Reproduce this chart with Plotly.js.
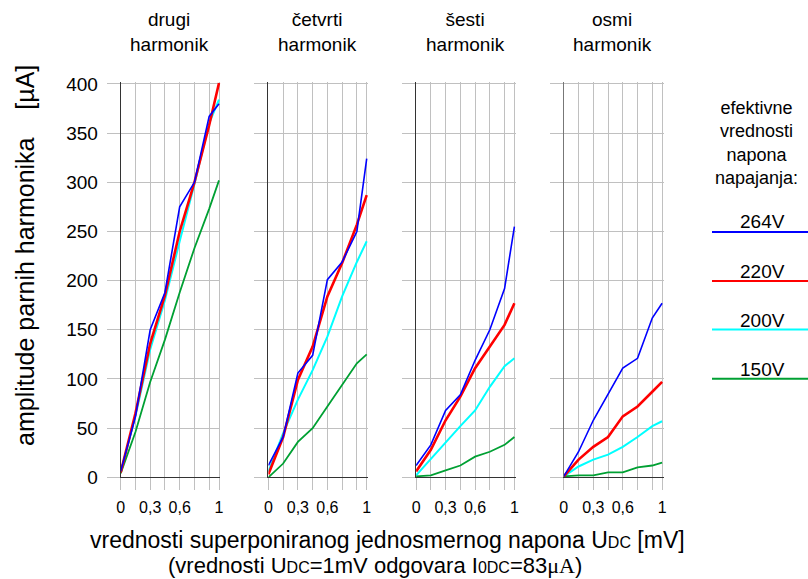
<!DOCTYPE html>
<html><head><meta charset="utf-8">
<script src="https://cdn.plot.ly/plotly-3.0.1.min.js"></script>
<style>html,body{margin:0;padding:0;background:#fff}</style>
</head><body><div id="chart" style="width:808px;height:579px"></div>
<script>
// ---- data ----
const udc = [0, 0.15, 0.3, 0.45, 0.6, 0.75, 0.9, 1];
const xTickVals = [0, 0.15, 0.3, 0.45, 0.6, 0.75, 0.9, 1];
const xTickText = ["0", "", "0,3", "", "0,6", "", "", "1"];
const yTickVals = [0, 50, 100, 150, 200, 250, 300, 350, 400];
const harmonics = ["drugi<br>harmonik", "četvrti<br>harmonik", "šesti<br>harmonik", "osmi<br>harmonik"];
const seriesNames = ["264V", "220V", "200V", "150V"];
const seriesColors = ["#0000ff", "#ff0000", "#00ffff", "#00a033"];
const seriesWidths = [1.6, 2.6, 2, 1.8];

// drugi harmonik
const h2_264 = [6, 62, 150, 188, 275, 300, 367, 380];
const h2_220 = [5, 65, 136, 185, 250, 300, 358, 401];
const h2_200 = [5, 62, 130, 180, 240, 298, 360, 384];
const h2_150 = [4, 46, 97, 140, 188, 233, 273, 302];
// cetvrti harmonik
const h4_264 = [12, 41, 106, 124, 201, 219, 250, 324];
const h4_220 = [3, 41, 99, 133, 184, 218, 257, 287];
const h4_200 = [6, 45, 79, 109, 143, 184, 219, 240];
const h4_150 = [0, 14, 36, 50, 72, 94, 116, 125];
// sesti harmonik
const h6_264 = [12, 33, 68, 84, 119, 150, 192, 255];
const h6_220 = [6, 28, 58, 82, 111, 133, 155, 177];
const h6_200 = [2, 19, 36, 52, 68, 92, 113, 121];
const h6_150 = [1, 2, 7, 12, 21, 26, 33, 41];
// osmi harmonik
const h8_264 = [1, 26, 58, 84, 111, 121, 162, 177];
const h8_220 = [1, 18, 31, 41, 62, 72, 87, 97];
const h8_200 = [1, 11, 18, 23, 31, 41, 52, 57];
const h8_150 = [1, 2, 2, 5, 5, 10, 12, 15];

const panelSeries = [
  [h2_264, h2_220, h2_200, h2_150],
  [h4_264, h4_220, h4_200, h4_150],
  [h6_264, h6_220, h6_200, h6_150],
  [h8_264, h8_220, h8_200, h8_150]
];

// ---- layout geometry ----
const W = 808, H = 579;
const FONT = "Liberation Sans, Arial, sans-serif";
const panelLeft = [120.7, 268.4, 416.1, 563.8];
const unitX = 98.3;
const xMax = 1.015;
const y0px = 477.3, unitY = 0.9833, yMax = 402;
const py = p => 1 - p / H;
const px = p => p / W;

const traces = [];
const layout = {
  width: W, height: H,
  margin: {l: 0, r: 0, t: 0, b: 0},
  paper_bgcolor: "#fff", plot_bgcolor: "#fff",
  showlegend: false,
  font: {family: FONT, color: "#000"},
  annotations: [], shapes: []
};

const drawOrder = [2, 3, 1, 0];
for (let p = 0; p < 4; p++) {
  const sfx = p === 0 ? "" : String(p + 1);
  for (const s of drawOrder) {
    traces.push({
      x: udc, y: panelSeries[p][s], type: "scatter", mode: "lines",
      xaxis: "x" + sfx, yaxis: "y" + sfx,
      line: {color: seriesColors[s], width: seriesWidths[s]},
      hoverinfo: "skip", name: seriesNames[s]
    });
  }
  const l = panelLeft[p];
  layout["xaxis" + sfx] = {
    domain: [px(l), px(l + unitX * xMax)], range: [0, xMax],
    anchor: "y" + sfx, tickmode: "array", tickvals: xTickVals, ticktext: xTickText,
    ticks: "outside", ticklen: 12, tickcolor: "#c0c0c0", tickwidth: 1,
    showgrid: true, gridcolor: "#c0c0c0", gridwidth: 1, zeroline: false,
    showline: true, linecolor: "#333", linewidth: 1,
    tickfont: {size: 16, family: FONT, color: "#000"}, ticklabelstandoff: 3,
    fixedrange: true
  };
  layout["yaxis" + sfx] = {
    domain: [py(y0px), py(y0px - yMax * unitY)], range: [0, yMax],
    anchor: "x" + sfx, tickmode: "array", tickvals: yTickVals,
    showticklabels: p === 0,
    ticks: "outside", ticklen: 13, tickcolor: "#c0c0c0", tickwidth: 1,
    showgrid: true, gridcolor: "#c0c0c0", gridwidth: 1, zeroline: false,
    showline: true, linecolor: p === 3 ? "#777" : "#333", linewidth: 1,
    tickfont: {size: 19, family: FONT, color: "#000"}, ticklabelstandoff: 5,
    fixedrange: true
  };
  layout.annotations.push({
    xref: "paper", yref: "paper", x: px(l + unitX / 2), y: py(32),
    xanchor: "center", yanchor: "middle", showarrow: false,
    text: harmonics[p], font: {size: 19, family: FONT, color: "#000"}
  });
}

// axis titles
layout.annotations.push({
  xref: "paper", yref: "paper", x: px(25), y: py(256), textangle: -90,
  xanchor: "center", yanchor: "middle", showarrow: false,
  text: "amplitude parnih harmonika    [µA]",
  font: {size: 25, family: FONT, color: "#000"}
});
layout.annotations.push({
  xref: "paper", yref: "paper", x: px(387.5), y: py(539.5),
  xanchor: "center", yanchor: "middle", showarrow: false, borderpad: 0,
  text: "vrednosti superponiranog jednosmernog napona U<span style='font-size:16px'>DC</span> [mV]",
  font: {size: 23, family: FONT, color: "#000"}
});
layout.annotations.push({
  xref: "paper", yref: "paper", x: px(375), y: py(565.3),
  xanchor: "center", yanchor: "middle", showarrow: false, borderpad: 0,
  text: "(vrednosti U<span style='font-size:16px'>DC</span>=1mV odgovara I<span style='font-size:16px'>0DC</span>=83<span style='font-family:Liberation Serif,serif'>μA</span>)",
  font: {size: 22, family: FONT, color: "#000"}
});

// legend
layout.annotations.push({
  xref: "paper", yref: "paper", x: px(756), y: py(143),
  xanchor: "center", yanchor: "middle", showarrow: false,
  text: "efektivne<br>vrednosti<br>napona<br>napajanja:",
  font: {size: 18, family: FONT, color: "#000"}
});
const legTextY = [221.7, 271.7, 320, 369.3];
const legLineY = [232, 281, 329.5, 378.7];
for (let s = 0; s < 4; s++) {
  layout.annotations.push({
    xref: "paper", yref: "paper", x: px(762), y: py(legTextY[s]),
    xanchor: "center", yanchor: "middle", showarrow: false,
    text: seriesNames[s], font: {size: 19, family: FONT, color: "#000"}
  });
  layout.shapes.push({
    type: "line", xref: "paper", yref: "paper",
    x0: px(712), x1: 1, y0: py(legLineY[s]), y1: py(legLineY[s]),
    line: {color: seriesColors[s], width: 2}
  });
}

Plotly.newPlot("chart", traces, layout, {displayModeBar: false, staticPlot: true});
</script></body></html>
